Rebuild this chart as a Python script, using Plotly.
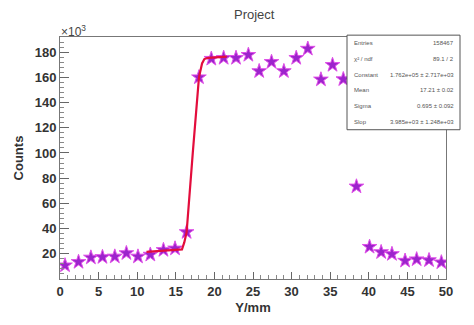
import plotly.graph_objects as go

# ---- data ----
pos_mm = [0.65, 2.4, 4.0, 5.5, 7.1, 8.6, 10.1, 11.7, 13.4, 14.9, 16.4, 18.0,
          19.6, 21.2, 22.8, 24.4, 25.8, 27.4, 29.0, 30.6, 32.1, 33.8, 35.3,
          36.7, 38.4, 40.1, 41.6, 43.0, 44.7, 46.2, 47.8, 49.4]
counts_k = [10.8, 13.5, 17.0, 17.4, 17.8, 20.5, 17.8, 19.3, 23.0, 24.2, 37.2, 160.0,
            174.7, 175.4, 175.4, 177.8, 164.9, 172.2, 164.9, 175.4, 182.7, 158.3, 169.8,
            158.5, 73.4, 25.5, 21.3, 19.8, 14.5, 15.6, 14.9, 13.2]

fit_x = [11.2, 15.8, 16.1, 16.4, 17.2, 18.0, 18.4, 18.7, 19.2, 21.6]
fit_y = [21.5, 23.5, 29.0, 37.0, 100.0, 160.0, 171.0, 174.5, 175.5, 176.5]

x_ticks = [0, 5, 10, 15, 20, 25, 30, 35, 40, 45, 50]
y_ticks = [20, 40, 60, 80, 100, 120, 140, 160, 180]

stats_labels = ["Entries", "\u03c7\u00b2 / ndf", "Constant", "Mean", "Sigma", "Slop"]
stats_values = ["158467", "89.1 / 2", "1.762e+05 \u00b1 2.717e+03", "17.21 \u00b1 0.02",
                "0.695 \u00b1 0.092", "3.985e+03 \u00b1 1.248e+03"]

W, H = 474, 325
L, R, T, B = 60, 446, 37, 298

fig = go.Figure()
fig.add_trace(go.Scatter(x=pos_mm, y=counts_k, mode="markers",
                         marker=dict(symbol="star", size=11, color="#9c24cc",
                                     line=dict(color="#e050e8", width=1)),
                         showlegend=False))
fig.add_trace(go.Scatter(x=fit_x, y=fit_y, mode="lines",
                         line=dict(color="#e30d3c", width=2.2), showlegend=False))

axis_font = dict(family="Liberation Sans", size=13, color="#333", weight="bold")

fig.update_layout(
    width=W, height=H,
    margin=dict(l=L, r=W - R, t=T, b=H - B, pad=0),
    paper_bgcolor="white", plot_bgcolor="white",
    xaxis=dict(range=[0, 50], tickvals=x_ticks, ticks="inside", ticklen=7,
               tickcolor="#666", showline=True, linecolor="#777", linewidth=1,
               mirror=True, showgrid=False, zeroline=False, tickfont=axis_font,
               minor=dict(dtick=1, ticks="inside", ticklen=4, tickcolor="#888"),
               title=dict(text="Y/mm", font=axis_font, standoff=5)),
    yaxis=dict(range=[0, 192], tickvals=y_ticks, ticks="inside", ticklen=9,
               tickcolor="#666", showline=True, linecolor="#777", linewidth=1,
               mirror=True, showgrid=False, zeroline=False, tickfont=axis_font,
               minor=dict(dtick=4, ticks="inside", ticklen=4, tickcolor="#888"),
               title=dict(text="Counts", font=axis_font, standoff=8)),
)

def px(xp):
    return (xp - L) / (R - L)

def py(yp):
    return (B - yp) / (B - T)

fig.add_annotation(x=px(254), y=py(13), xref="paper", yref="paper",
                   text="Project", showarrow=False, yanchor="middle",
                   font=dict(family="Liberation Sans", size=13, color="#444"))
fig.add_annotation(x=px(59), y=py(31), xref="paper", yref="paper",
                   text="\u00d710<sup>3</sup>", showarrow=False, xanchor="left",
                   yanchor="middle",
                   font=dict(family="Liberation Sans", size=12, color="#444"))

# stats box
bx0, bx1, by0, by1 = 347, 460, 35, 137
fig.add_shape(type="rect", xref="paper", yref="paper",
              x0=px(bx0), x1=px(bx1), y0=py(by1), y1=py(by0),
              line=dict(color="#555", width=1), fillcolor="white", layer="above")
row_h = (by1 - by0) / len(stats_labels)
for i, (lab, val) in enumerate(zip(stats_labels, stats_values)):
    yy = by0 + row_h * (i + 0.5)
    fig.add_annotation(x=px(bx0 + 5), y=py(yy), xref="paper", yref="paper",
                       text=lab, showarrow=False, xanchor="left", yanchor="middle",
                       font=dict(family="Liberation Sans", size=6, color="#555"))
    fig.add_annotation(x=px(bx1 - 4), y=py(yy), xref="paper", yref="paper",
                       text=val, showarrow=False, xanchor="right", yanchor="middle",
                       font=dict(family="Liberation Sans", size=6, color="#555"))

fig.write_html("out.html")
